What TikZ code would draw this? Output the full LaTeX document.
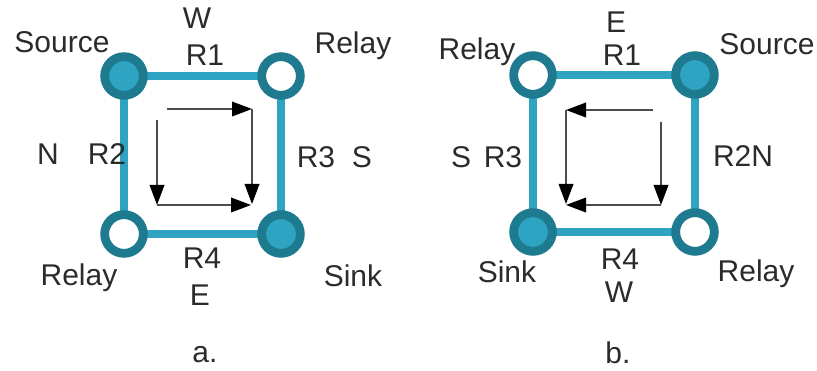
\documentclass[tikz,border=0pt]{standalone}
\usepackage{fontspec}
\setmainfont{Liberation Sans}
\usepackage{tikz}
\usetikzlibrary{arrows.meta, backgrounds}

\definecolor{ringteal}{HTML}{1E7A8E}
\definecolor{lineteal}{HTML}{2FA4C2}
\definecolor{labelgray}{HTML}{2B2B2B}

\begin{document}
\begin{tikzpicture}[
  x=0.75pt, y=0.75pt,
  every node/.style = {font=\fontsize{22.5}{26}\selectfont, text=labelgray,
                       inner sep=0pt},
  endnode/.style    = {circle, draw=ringteal, line width=6.6pt,
                       fill=lineteal, minimum size=29pt},
  relaynode/.style  = {circle, draw=ringteal, line width=6.6pt,
                       fill=white, minimum size=29pt},
  link/.style       = {lineteal, line width=5.3pt},
  flow/.style       = {-{Triangle[length=15pt, width=11pt, black]},
                       gray!60!black, line width=1.1pt},
]
\useasboundingbox (0,0) rectangle (817,371);

%% ══ (a) square, source top left ═════════════════════════════════════════
\node[endnode]   at (124,295) (srcA)  {};
\node[relaynode] at (281,295) (relA1) {};
\node[relaynode] at (124,137) (relA2) {};
\node[endnode]   at (281,137) (sinkA) {};

\begin{scope}[on background layer]
  \draw[link] (srcA.center)  -- (relA1.center);
  \draw[link] (relA1.center) -- (sinkA.center);
  \draw[link] (sinkA.center) -- (relA2.center);
  \draw[link] (relA2.center) -- (srcA.center);
\end{scope}

%% ── inner flow arrows ────────────────────────────────────────────────────
\coordinate (a1) at (167,262);
\coordinate (a2) at (252,262);
\coordinate (a3) at (252,167);
\coordinate (a4) at (157,251);
\coordinate (a5) at (157,166);
\coordinate (a6) at (251,166);
\draw[flow] (a1) -- (a2);
\draw[flow] (a2) -- (a3);
\draw[flow] (a4) -- (a5);
\draw[flow] (a5) -- (a6);

%% ── labels ───────────────────────────────────────────────────────────────
\node at (197,353)   (wA)     {W};
\node at (205,316)   (r1A)    {R1};
\node at (62,328.5)  (srcAl)  {Source};
\node at (353,325)   (relA1l) {Relay};
\node at (48,217)    (nA)     {N};
\node at (107,217)   (r2A)    {R2};
\node at (316,214)   (r3A)    {R3};
\node at (362,214)   (sA)     {S};
\node at (202,113)   (r4A)    {R4};
\node at (200,75.5)  (eA)     {E};
\node at (79,93)     (relA2l) {Relay};
\node at (353,95.5)  (sinkAl) {Sink};
\node at (205,16)    (capA)   {a.};

%% ══ (b) square, source top right ════════════════════════════════════════
\node[relaynode] at (533,296) (relB1) {};
\node[endnode]   at (695,296) (srcB)  {};
\node[endnode]   at (533,139) (sinkB) {};
\node[relaynode] at (695,139) (relB2) {};

\begin{scope}[on background layer]
  \draw[link] (relB1.center) -- (srcB.center);
  \draw[link] (srcB.center)  -- (relB2.center);
  \draw[link] (relB2.center) -- (sinkB.center);
  \draw[link] (sinkB.center) -- (relB1.center);
\end{scope}

%% ── inner flow arrows ────────────────────────────────────────────────────
\coordinate (b1) at (653,261);
\coordinate (b2) at (566,261);
\coordinate (b3) at (566,167);
\coordinate (b4) at (661,249);
\coordinate (b5) at (661,166);
\coordinate (b6) at (566,166);
\draw[flow] (b1) -- (b2);
\draw[flow] (b2) -- (b3);
\draw[flow] (b4) -- (b5);
\draw[flow] (b5) -- (b6);

%% ── labels ───────────────────────────────────────────────────────────────
\node at (616,349)   (eB)     {E};
\node at (622,315.5) (r1B)    {R1};
\node at (477,319.5) (relB1l) {Relay};
\node at (767,327)   (srcBl)  {Source};
\node at (461,214)   (sB)     {S};
\node at (503,214)   (r3B)    {R3};
\node at (743,215)   (r2B)    {R2N};
\node at (620,111.5) (r4B)    {R4};
\node at (619,79)    (wB)     {W};
\node at (507,99)    (sinkBl) {Sink};
\node at (756,97)    (relB2l) {Relay};
\node at (618,18)    (capB)   {b.};

\end{tikzpicture}
\end{document}
